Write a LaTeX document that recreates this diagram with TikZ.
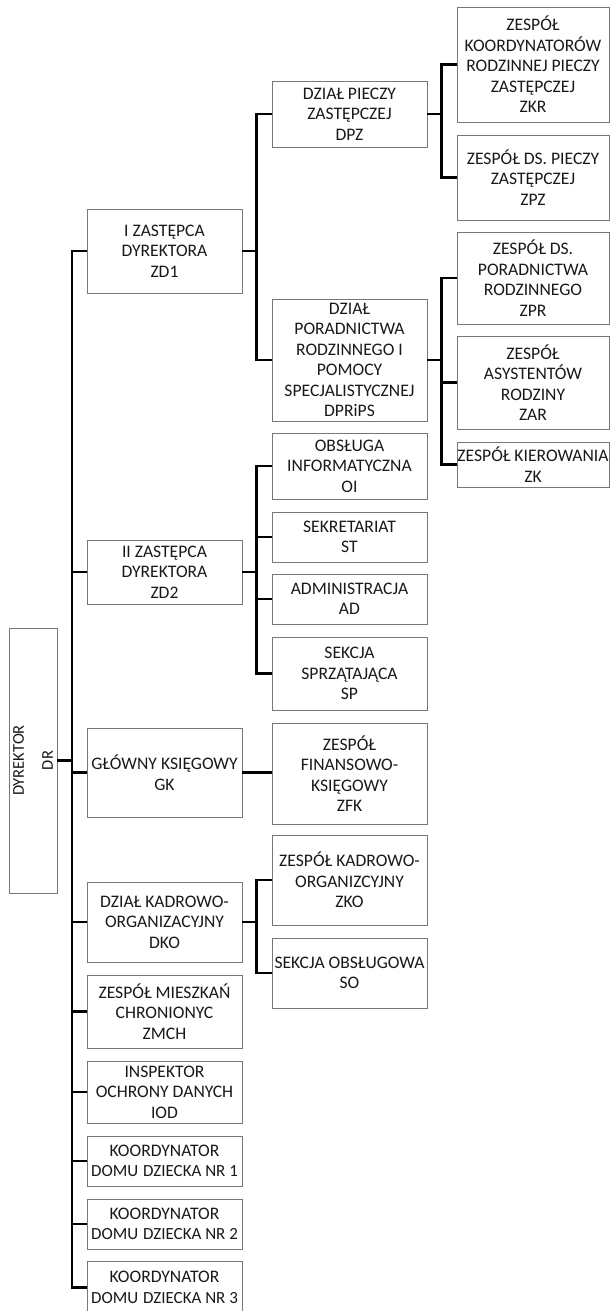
\documentclass[tikz,border=0pt]{standalone}
\usepackage{fontspec}
\setmainfont{Carlito}
\definecolor{boxgray}{RGB}{120,120,120}
\definecolor{txt}{RGB}{25,25,25}
\tikzset{
  box/.style={draw=boxgray, line width=0.9pt, align=center, inner sep=0pt, text=txt,
    font=\fontsize{17.6}{20.5}\selectfont, minimum width=155pt},
  boxr/.style={box, minimum width=152pt},
  conn/.style={line width=2.6pt, black, line join=miter},
}
\begin{document}
\begin{tikzpicture}[x=1pt,y=-1pt]
\fill[white] (0,0) rectangle (610,1311);
\useasboundingbox (0,0) rectangle (610,1311);

% director
\node[box, rotate=90, minimum width=265pt, minimum height=48pt,
  font=\fontsize{16.5}{29}\selectfont] (DR) at (33,760.5) {DYREKTOR\\DR};

% level 1
\node[box, minimum height=84pt] (ZD1) at (164.5,251) {I ZASTĘPCA\\DYREKTORA\\ZD1};
\node[box, minimum height=64pt] (ZD2) at (164.5,572) {II ZASTĘPCA\\DYREKTORA\\ZD2};
\node[box, minimum height=89pt] (GK) at (164.5,772.5) {GŁÓWNY KSIĘGOWY\\GK};
\node[box, minimum height=80pt] (DKO) at (164.5,922) {DZIAŁ KADROWO-\\ORGANIZACYJNY\\DKO};
\node[box, minimum height=73pt] (ZMCH) at (164.5,1011.5) {ZESPÓŁ MIESZKAŃ\\CHRONIONYC\\ZMCH};
\node[box, minimum height=62pt] (IOD) at (164.5,1092) {INSPEKTOR\\OCHRONY DANYCH\\IOD};
\node[box, minimum height=50pt] (KD1) at (164.5,1161) {KOORDYNATOR\\{\fontsize{17}{20.5}\selectfont DOMU\ \hspace{1pt}DZIECKA NR 1}};
\node[box, minimum height=50pt] (KD2) at (164.5,1224) {KOORDYNATOR\\{\fontsize{17}{20.5}\selectfont DOMU\ \hspace{1pt}DZIECKA NR 2}};
\node[box, minimum height=52pt] (KD3) at (164.5,1287.5) {KOORDYNATOR\\{\fontsize{17}{20.5}\selectfont DOMU\ \hspace{1pt}DZIECKA NR 3}};

% level 2
\node[box, minimum height=66pt] (DPZ) at (349.5,114) {DZIAŁ PIECZY\\ZASTĘPCZEJ\\DPZ};
\node[box, minimum height=122pt] (DPR) at (349.5,360) {DZIAŁ\\PORADNICTWA\\RODZINNEGO I\\POMOCY\\SPECJALISTYCZNEJ\\DPRiPS};
\node[box, minimum height=66pt] (OI) at (349.5,466) {OBSŁUGA\\INFORMATYCZNA\\OI};
\node[box, minimum height=50pt] (ST) at (349.5,537) {SEKRETARIAT\\ST};
\node[box, minimum height=50pt] (AD) at (349.5,599) {ADMINISTRACJA\\AD};
\node[box, minimum height=73pt] (SP) at (349.5,673.5) {SEKCJA\\SPRZĄTAJĄCA\\SP};
\node[box, minimum height=101pt] (ZFK) at (349.5,773.5) {ZESPÓŁ\\FINANSOWO-\\KSIĘGOWY\\ZFK};
\node[box, minimum height=90pt] (ZKO) at (349.5,880) {ZESPÓŁ KADROWO-\\ORGANIZCYJNY\\ZKO};
\node[box, minimum height=70pt] (SO) at (349.5,973) {SEKCJA OBSŁUGOWA\\SO};

% level 3
\node[boxr, minimum height=115pt] (ZKR) at (533,64.5) {ZESPÓŁ\\KOORDYNATORÓW\\RODZINNEJ PIECZY\\ZASTĘPCZEJ\\ZKR};
\node[boxr, minimum height=85pt] (ZPZ) at (533,177.5) {ZESPÓŁ DS. PIECZY\\ZASTĘPCZEJ\\ZPZ};
\node[boxr, minimum height=92pt] (ZPR) at (533,278) {ZESPÓŁ DS.\\PORADNICTWA\\RODZINNEGO\\ZPR};
\node[boxr, minimum height=93pt] (ZAR) at (533,382.5) {ZESPÓŁ\\ASYSTENTÓW\\RODZINY\\ZAR};
\node[boxr, minimum height=45pt] (ZK) at (533,464.5) {ZESPÓŁ KIEROWANIA\\ZK};

% bus coordinates
\coordinate (m) at (72,0);
\coordinate (s) at (256.5,0);
\coordinate (t) at (441.5,0);

% main bus
\draw[conn] (ZD1.west) -- (ZD1.west -| m) -- (KD3.west -| m) -- (KD3.west);
\draw[conn, line width=3pt] (DR.south) -- (DR.south -| m);
\foreach \n in {ZD2,GK,DKO,ZMCH,IOD,KD1,KD2}
  \draw[conn] (\n.west -| m) -- (\n.west);

% ZD1 group
\draw[conn] (ZD1.east) -- (ZD1.east -| s);
\draw[conn] (DPZ.west) -- (DPZ.west -| s) -- (DPR.west -| s) -- (DPR.west);

% DPZ group
\draw[conn] (DPZ.east) -- (DPZ.east -| t);
\draw[conn] (ZKR.west) -- (ZKR.west -| t) -- (ZPZ.west -| t) -- (ZPZ.west);

% DPRiPS group
\draw[conn] (DPR.east) -- (DPR.east -| t);
\draw[conn] (ZPR.west) -- (ZPR.west -| t) -- (ZK.west -| t) -- (ZK.west);
\draw[conn] (ZAR.west -| t) -- (ZAR.west);

% ZD2 group
\draw[conn] (ZD2.east) -- (ZD2.east -| s);
\draw[conn] (OI.west) -- (OI.west -| s) -- (SP.west -| s) -- (SP.west);
\draw[conn] (ST.west -| s) -- (ST.west);
\draw[conn] (AD.west -| s) -- (AD.west);

% GK
\draw[conn, line width=2.2pt] (GK.east) -- (ZFK.west |- GK.east);

% DKO group
\draw[conn] (DKO.east) -- (DKO.east -| s);
\draw[conn] (ZKO.west) -- (ZKO.west -| s) -- (SO.west -| s) -- (SO.west);
\end{tikzpicture}
\end{document}
